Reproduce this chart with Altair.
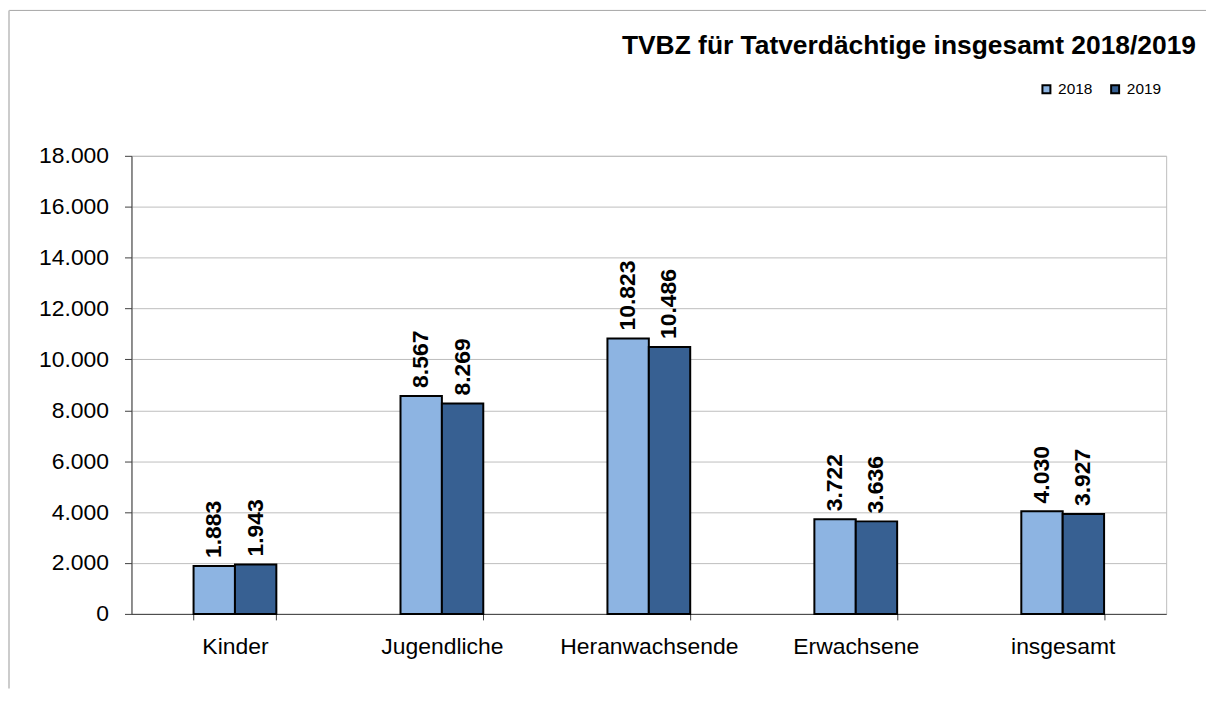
import altair as alt
import pandas as pd

kategorien = ["Kinder", "Jugendliche", "Heranwachsende", "Erwachsene", "insgesamt"]
jahre = ["2018", "2019"]
werte_2018 = [1883, 8567, 10823, 3722, 4030]
werte_2019 = [1943, 8269, 10486, 3636, 3927]
farben = ["#8DB4E2", "#376092"]
y_ticks = [0, 2000, 4000, 6000, 8000, 10000, 12000, 14000, 16000, 18000]
titel = "TVBZ für Tatverdächtige insgesamt 2018/2019"

rows = []
for k, a, b in zip(kategorien, werte_2018, werte_2019):
    rows.append({"Kategorie": k, "Jahr": "2018", "Wert": a})
    rows.append({"Kategorie": k, "Jahr": "2019", "Wert": b})
df = pd.DataFrame(rows)

FONT = "Liberation Sans"

base = alt.Chart(df).transform_calculate(
    label="replace(format(datum.Wert, ',d'), ',', '.')"
)

x_enc = alt.X(
    "Kategorie:N",
    sort=kategorien,
    scale=alt.Scale(paddingInner=0.6, paddingOuter=0.3),
    axis=alt.Axis(
        title=None, labelAngle=0, tickBand="extent", tickSize=6,
        labelPadding=16, labelFontSize=23, labelFont=FONT, labelColor="black",
        domainColor="#404040", tickColor="#404040", grid=False,
    ),
)
y_enc = alt.Y(
    "Wert:Q",
    scale=alt.Scale(domain=[0, 18000], nice=False),
    axis=alt.Axis(
        title=None, values=y_ticks, tickSize=7, labelPadding=16,
        labelFontSize=23, labelFont=FONT, labelColor="black",
        labelExpr="replace(format(datum.value, ',d'), ',', '.')",
        domainColor="#404040", tickColor="#404040",
        grid=True, gridColor="#bdbdbd", gridWidth=1,
    ),
)

bars = base.mark_bar(stroke="black", strokeWidth=2).encode(
    x=x_enc,
    xOffset=alt.XOffset("Jahr:N", sort=jahre),
    y=y_enc,
    color=alt.Color(
        "Jahr:N", sort=jahre,
        scale=alt.Scale(domain=jahre, range=farben),
        legend=alt.Legend(
            title=None, orient="none", legendX=911, legendY=-75,
            direction="horizontal", padding=0, offset=0,
            labelFontSize=15.5, labelFont=FONT, labelColor="black",
            symbolType="square", symbolSize=64, symbolStrokeColor="black",
            symbolStrokeWidth=2, labelOffset=4, columnPadding=14,
        ),
    ),
)

labels = base.mark_text(
    angle=270, align="left", baseline="middle", dx=8,
    font=FONT, fontSize=23, fontWeight="bold", color="black",
).encode(
    x=alt.X("Kategorie:N", sort=kategorien),
    xOffset=alt.XOffset("Jahr:N", sort=jahre),
    y=alt.Y("Wert:Q"),
    text="label:N",
)

frame_data = alt.Data(values=[{"f": 1}])
top_border = alt.Chart(frame_data).mark_rule(color="#a6a6a6", strokeWidth=1).encode(
    x=alt.value(-123), x2=alt.value(1090), y=alt.value(-146)
)
left_border = alt.Chart(frame_data).mark_rule(color="#cccccc", strokeWidth=2).encode(
    x=alt.value(-123), y=alt.value(-146), y2=alt.value(535)
)

chart = alt.layer(top_border, left_border, bars, labels).properties(
    width=1039,
    height=460,
    padding={"left": 124, "top": 147, "right": 40, "bottom": 80},
    autosize=alt.AutoSizeParams(type="none"),
    title=alt.TitleParams(
        text=titel, anchor="end", frame="group", font=FONT, fontSize=26.5,
        fontWeight="bold", color="black", dx=30, offset=0, dy=71,
        baseline="alphabetic",
    ),
).configure_view(stroke="#bdbdbd")

chart.save("out.html", embed_options={"renderer": "svg", "actions": False})
